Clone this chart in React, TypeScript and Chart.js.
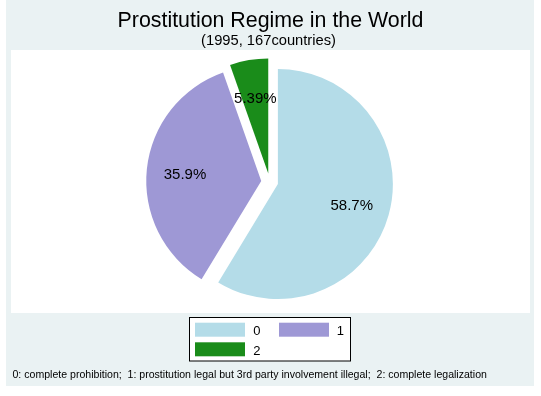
import React, { useEffect, useRef } from 'react';
import { Chart, ArcElement, PieController } from 'chart.js';

Chart.register(ArcElement, PieController);

// ---- data ----
const categories = ['0', '1', '2'];
const countries = [98, 60, 9];
const sliceColors = ['#B4DCE8', '#9E98D5', '#1A8C1A'];
const titleText = 'Prostitution Regime in the World';
const subtitleText = '(1995, 167countries)';
const noteText =
  '0: complete prohibition;  1: prostitution legal but 3rd party involvement illegal;  2: complete legalization';

// ---- style ----
const EXPLODE = 8.5;
const RADIUS = 115;
const FONT = '"Liberation Sans", Arial, Helvetica, sans-serif';
const W = 541;
const H = 396;
const CX = 269.7;
const CY = 181.8;
const HALF = 130;

function fitSize(ctx: CanvasRenderingContext2D, text: string, target: number) {
  ctx.font = `100px ${FONT}`;
  const w = ctx.measureText(text).width;
  return (100 * target) / w;
}

const backgroundPlugin = {
  id: 'stataBackground',
  beforeDraw(chart: any) {
    const ctx: CanvasRenderingContext2D = chart.ctx;
    ctx.save();
    ctx.fillStyle = '#FFFFFF';
    ctx.fillRect(0, 0, W, H);
    ctx.fillStyle = '#EAF2F3';
    ctx.fillRect(6, 0, 528, 386);
    ctx.fillStyle = '#FFFFFF';
    ctx.fillRect(11, 50, 519, 263);
    ctx.restore();
  },
};

const explodePlugin = {
  id: 'explodeSlices',
  beforeDatasetsDraw(chart: any) {
    const meta = chart.getDatasetMeta(0);
    meta.data.forEach((el: any) => {
      if (el.__exploded) return;
      el.__exploded = true;
      const base = ArcElement.prototype.draw;
      el.draw = function (ctx: CanvasRenderingContext2D, area: any) {
        const { startAngle, endAngle } = this.getProps(['startAngle', 'endAngle'], true);
        const mid = (startAngle + endAngle) / 2;
        ctx.save();
        ctx.translate(Math.cos(mid) * EXPLODE, Math.sin(mid) * EXPLODE);
        base.call(this, ctx, area);
        ctx.restore();
      };
    });
  },
};

const labelPlugin = {
  id: 'sliceLabels',
  afterDatasetsDraw(chart: any) {
    const ctx: CanvasRenderingContext2D = chart.ctx;
    const meta = chart.getDatasetMeta(0);
    const values: number[] = chart.data.datasets[0].data;
    const total = values.reduce((a, b) => a + b, 0);
    ctx.save();
    ctx.font = `15px ${FONT}`;
    ctx.fillStyle = '#000000';
    ctx.textAlign = 'center';
    ctx.textBaseline = 'middle';
    meta.data.forEach((el: any, i: number) => {
      const { x, y, startAngle, endAngle, outerRadius } = el.getProps(
        ['x', 'y', 'startAngle', 'endAngle', 'outerRadius'],
        true
      );
      const mid = (startAngle + endAngle) / 2;
      const r = EXPLODE + (outerRadius * 2) / 3;
      const txt = ((values[i] / total) * 100).toPrecision(3) + '%';
      ctx.fillText(txt, x + Math.cos(mid) * r, y + Math.sin(mid) * r + 1.5);
    });
    ctx.restore();
  },
};

const textPlugin = {
  id: 'stataText',
  afterDraw(chart: any) {
    const ctx: CanvasRenderingContext2D = chart.ctx;
    ctx.save();
    ctx.fillStyle = '#000000';
    ctx.textBaseline = 'alphabetic';

    // title
    const ts = fitSize(ctx, titleText, 306);
    ctx.font = `${ts}px ${FONT}`;
    ctx.textAlign = 'center';
    ctx.fillText(titleText, 270.5, 27);

    // subtitle
    const ss = fitSize(ctx, subtitleText, 135);
    ctx.font = `${ss}px ${FONT}`;
    ctx.fillText(subtitleText, 268.5, 45);

    // legend box
    ctx.fillStyle = '#FFFFFF';
    ctx.fillRect(189.5, 317.5, 161, 43.5);
    ctx.strokeStyle = '#000000';
    ctx.lineWidth = 1;
    ctx.strokeRect(189.5, 317.5, 161, 43.5);

    const entries = [
      { sx: 195, sy: 322.7, tx: 253.3, ty: 335 },
      { sx: 279, sy: 322.7, tx: 336.7, ty: 335 },
      { sx: 195, sy: 342.3, tx: 253.3, ty: 354.5 },
    ];
    ctx.font = `13px ${FONT}`;
    ctx.textAlign = 'left';
    categories.forEach((c, i) => {
      const e = entries[i];
      ctx.fillStyle = sliceColors[i];
      ctx.fillRect(e.sx, e.sy, 50, 14);
      ctx.fillStyle = '#000000';
      ctx.fillText(c, e.tx, e.ty);
    });

    // note
    const ns = fitSize(ctx, noteText, 475);
    ctx.font = `${ns}px ${FONT}`;
    ctx.textAlign = 'left';
    ctx.fillText(noteText, 12.5, 377.5);
    ctx.restore();
  },
};

export default function App() {
  const canvasRef = useRef<HTMLCanvasElement | null>(null);

  useEffect(() => {
    if (!canvasRef.current) return;
    const chart = new Chart(canvasRef.current, {
      type: 'pie',
      data: {
        labels: categories,
        datasets: [
          {
            data: countries,
            backgroundColor: sliceColors,
            borderWidth: 0,
            offset: 0,
          },
        ],
      },
      options: {
        responsive: false,
        animation: false,
        events: [],
        radius: RADIUS,
        layout: {
          padding: {
            left: CX - HALF,
            right: W - (CX + HALF),
            top: CY - HALF,
            bottom: H - (CY + HALF),
          },
        },
        plugins: {
          legend: { display: false },
          tooltip: { enabled: false },
        },
      } as any,
      plugins: [backgroundPlugin, explodePlugin, labelPlugin, textPlugin],
    });
    return () => chart.destroy();
  }, []);

  return (
    <div style={{ position: 'absolute', left: 0, top: 0, width: W, height: H }}>
      <canvas ref={canvasRef} width={W} height={H} style={{ display: 'block' }} />
    </div>
  );
}
